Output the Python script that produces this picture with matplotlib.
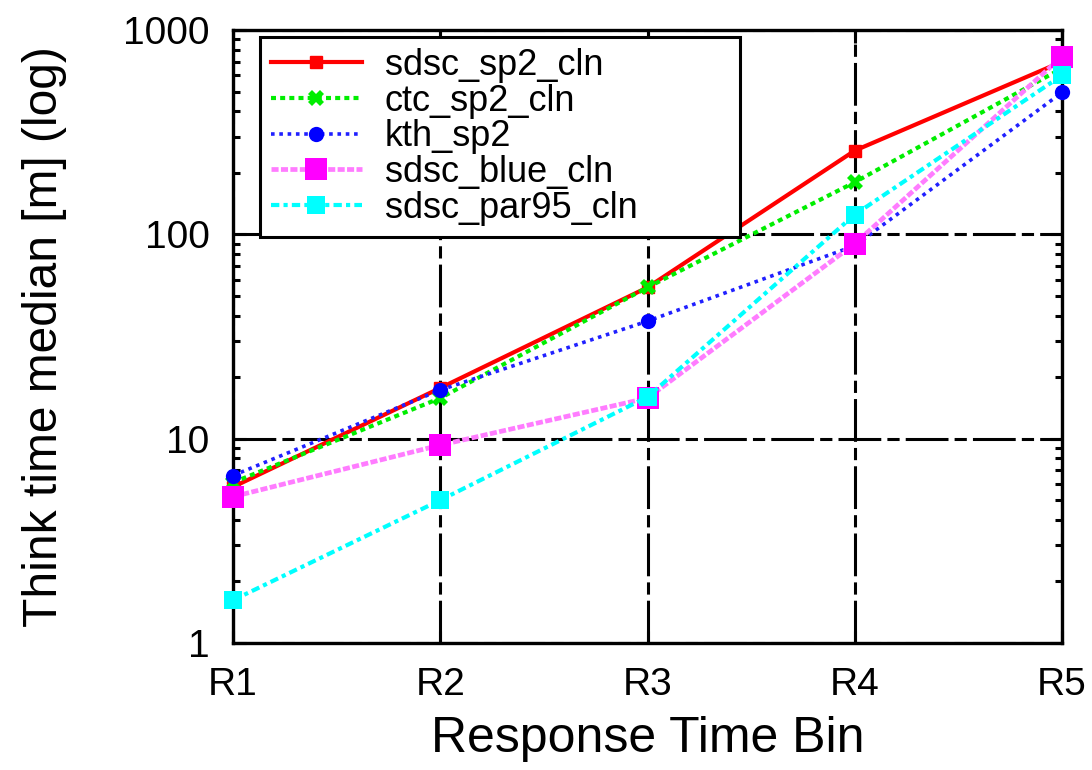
import matplotlib
matplotlib.use("Agg")
import matplotlib.pyplot as plt
from matplotlib.ticker import LogLocator, NullFormatter, FixedLocator

plt.rcParams['font.family'] = ['Liberation Sans', 'DejaVu Sans']

bins = ["R1", "R2", "R3", "R4", "R5"]
sdsc_sp2_cln = [5.8, 17.7, 55, 257, 700]
ctc_sp2_cln = [6.1, 15.8, 55, 180, 650]
kth_sp2 = [6.6, 17.3, 37.6, 88, 495]
sdsc_blue_cln = [5.2, 9.3, 15.8, 90, 742]
sdsc_par95_cln = [1.62, 5.0, 16, 125, 600]

x = list(range(len(bins)))

fig = plt.figure(figsize=(10.92, 7.7), dpi=100)
ax = fig.add_axes([0.2134, 0.165, 0.7592, 0.796])

ax.plot(x, sdsc_sp2_cln, color="red", lw=3, ls="-", marker="s", ms=8.5,
        label="sdsc_sp2_cln", clip_on=False)
ax.plot(x, ctc_sp2_cln, color="#00ee00", lw=3, ls=(0, (1.2, 1.0)), marker="X", ms=11,
        markeredgewidth=0, label="ctc_sp2_cln", clip_on=False)
ax.plot(x, kth_sp2, color="#2020ff", lw=2.6, ls=(0, (1, 1.3)), marker="o", ms=11,
        markerfacecolor="blue", markeredgewidth=0, label="kth_sp2", clip_on=False)
ax.plot(x, sdsc_blue_cln, color="#ff7cff", lw=3.4, ls=(0, (1.5, 0.5)), marker="s", ms=16.5,
        markerfacecolor="magenta", markeredgewidth=0, label="sdsc_blue_cln", clip_on=False)
ax.plot(x, sdsc_par95_cln, color="cyan", lw=3, ls=(0, (2, 1, 1, 1)), marker="s", ms=12.5,
        markeredgewidth=0, label="sdsc_par95_cln", clip_on=False)

ax.set_yscale("log")
ax.set_ylim(1, 1000)
ax.set_xlim(0, len(bins) - 1)
ax.set_xticks(x)
ax.set_xticklabels(bins)
ax.yaxis.set_major_locator(FixedLocator([1, 10, 100, 1000]))
ax.set_yticklabels(["1", "10", "100", "1000"])
ax.yaxis.set_minor_locator(LogLocator(base=10, subs=range(2, 10)))
ax.yaxis.set_minor_formatter(NullFormatter())

ax.grid(True, which="major", color="black", ls=(0, (14, 2, 4, 2)), lw=2.2)
ax.set_axisbelow(True)
ax.tick_params(axis="both", which="major", direction="in", length=9, width=2.2,
               top=True, right=True, labelsize=28, pad=17)
ax.tick_params(axis="y", which="minor", direction="in", length=5, width=2.2,
               left=True, right=True)
for s in ax.spines.values():
    s.set_linewidth(2.4)
    s.set_zorder(0.5)

ax.set_xlabel("Response Time Bin", fontsize=36, labelpad=10)
ax.set_ylabel("Think time median [m] (log)", fontsize=34.5, labelpad=40)

leg = ax.legend(loc="upper left", bbox_to_anchor=(0.033, 0.9886, 0.579, 0.0),
                mode="expand", fontsize=26, frameon=True, fancybox=False,
                handlelength=2.5, borderpad=0.3, borderaxespad=0.0,
                labelspacing=0.02, handletextpad=0.65)
leg.get_frame().set_edgecolor("black")
leg.get_frame().set_linewidth(2.2)
leg.get_frame().set_alpha(1)

fig.savefig("out.png", dpi=100)
